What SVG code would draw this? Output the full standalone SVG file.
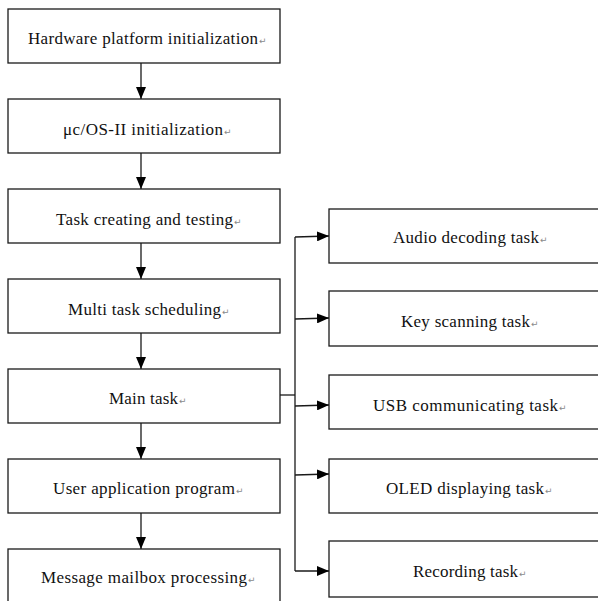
<svg xmlns="http://www.w3.org/2000/svg" width="598" height="601" viewBox="0 0 598 601">
  <style>
    .box { fill: #ffffff; stroke: #1a1a1a; stroke-width: 1.3; }
    .lbl { font-family: "Liberation Serif", "Times New Roman", serif; font-size: 17px; fill: #111111; }
    .ret { font-family: "DejaVu Sans", sans-serif; font-size: 9px; fill: #8a8a8a; }
    .wire { fill: none; stroke: #1a1a1a; stroke-width: 1.3; }
  </style>
  <defs>
    <marker id="arrow" viewBox="0 0 12 10" refX="12" refY="5" markerWidth="12" markerHeight="10" markerUnits="userSpaceOnUse" orient="auto">
      <path d="M0,0 L12,5 L0,10 Z" fill="#000000"/>
    </marker>
  </defs>
  <rect width="598" height="601" fill="#ffffff"/>

  <!-- connectors -->
  <g id="connectors">
    <line class="wire" x1="141" y1="63" x2="141" y2="99" marker-end="url(#arrow)"/>
    <line class="wire" x1="141" y1="153" x2="141" y2="189" marker-end="url(#arrow)"/>
    <line class="wire" x1="141" y1="243" x2="141" y2="279" marker-end="url(#arrow)"/>
    <line class="wire" x1="141" y1="333" x2="141" y2="369" marker-end="url(#arrow)"/>
    <line class="wire" x1="141" y1="423" x2="141" y2="459" marker-end="url(#arrow)"/>
    <line class="wire" x1="141" y1="513" x2="141" y2="549" marker-end="url(#arrow)"/>
    <!-- main task fan-out bus -->
    <line class="wire" x1="280" y1="395" x2="295" y2="395"/>
    <line class="wire" x1="295" y1="237" x2="295" y2="571"/>
    <line class="wire" x1="295" y1="237" x2="329" y2="236" marker-end="url(#arrow)"/>
    <line class="wire" x1="295" y1="319" x2="329" y2="318" marker-end="url(#arrow)"/>
    <line class="wire" x1="295" y1="406" x2="329" y2="405" marker-end="url(#arrow)"/>
    <line class="wire" x1="295" y1="475" x2="329" y2="474" marker-end="url(#arrow)"/>
    <line class="wire" x1="295" y1="571" x2="329" y2="571" marker-end="url(#arrow)"/>
  </g>

  <!-- left column -->
  <g id="hw-init">
    <rect class="box" x="8" y="9" width="272" height="54"/>
    <text class="lbl" x="28" y="44" textLength="230" lengthAdjust="spacing">Hardware platform initialization</text>
    <text class="ret" x="259" y="44">↵</text>
  </g>
  <g id="os-init">
    <rect class="box" x="8" y="99" width="272" height="54"/>
    <text class="lbl" x="63" y="135" textLength="160" lengthAdjust="spacing">μc/OS-II initialization</text>
    <text class="ret" x="224" y="135">↵</text>
  </g>
  <g id="task-create">
    <rect class="box" x="8" y="189" width="272" height="54"/>
    <text class="lbl" x="56" y="225" textLength="177" lengthAdjust="spacing">Task creating and testing</text>
    <text class="ret" x="234" y="225">↵</text>
  </g>
  <g id="multi-sched">
    <rect class="box" x="8" y="279" width="272" height="54"/>
    <text class="lbl" x="68" y="315" textLength="153" lengthAdjust="spacing">Multi task scheduling</text>
    <text class="ret" x="222" y="315">↵</text>
  </g>
  <g id="main-task">
    <rect class="box" x="8" y="369" width="272" height="54"/>
    <text class="lbl" x="109" y="404" textLength="69" lengthAdjust="spacing">Main task</text>
    <text class="ret" x="179" y="404">↵</text>
  </g>
  <g id="user-app">
    <rect class="box" x="8" y="459" width="272" height="54"/>
    <text class="lbl" x="53" y="494" textLength="182" lengthAdjust="spacing">User application program</text>
    <text class="ret" x="236" y="494">↵</text>
  </g>
  <g id="mailbox">
    <rect class="box" x="8" y="549" width="272" height="60"/>
    <text class="lbl" x="41" y="583" textLength="206" lengthAdjust="spacing">Message mailbox processing</text>
    <text class="ret" x="248" y="583">↵</text>
  </g>

  <!-- right column -->
  <g id="audio-task">
    <rect class="box" x="329" y="209" width="275" height="54"/>
    <text class="lbl" x="393" y="243" textLength="146" lengthAdjust="spacing">Audio decoding task</text>
    <text class="ret" x="540" y="243">↵</text>
  </g>
  <g id="key-task">
    <rect class="box" x="329" y="291" width="275" height="55"/>
    <text class="lbl" x="401" y="327" textLength="129" lengthAdjust="spacing">Key scanning task</text>
    <text class="ret" x="531" y="327">↵</text>
  </g>
  <g id="usb-task">
    <rect class="box" x="329" y="375" width="275" height="54"/>
    <text class="lbl" x="373" y="411" textLength="185" lengthAdjust="spacing">USB communicating task</text>
    <text class="ret" x="559" y="411">↵</text>
  </g>
  <g id="oled-task">
    <rect class="box" x="329" y="459" width="275" height="54"/>
    <text class="lbl" x="386" y="494" textLength="158" lengthAdjust="spacing">OLED displaying task</text>
    <text class="ret" x="545" y="494">↵</text>
  </g>
  <g id="record-task">
    <rect class="box" x="329" y="541" width="275" height="56"/>
    <text class="lbl" x="413" y="577" textLength="105" lengthAdjust="spacing">Recording task</text>
    <text class="ret" x="519" y="577">↵</text>
  </g>
</svg>
